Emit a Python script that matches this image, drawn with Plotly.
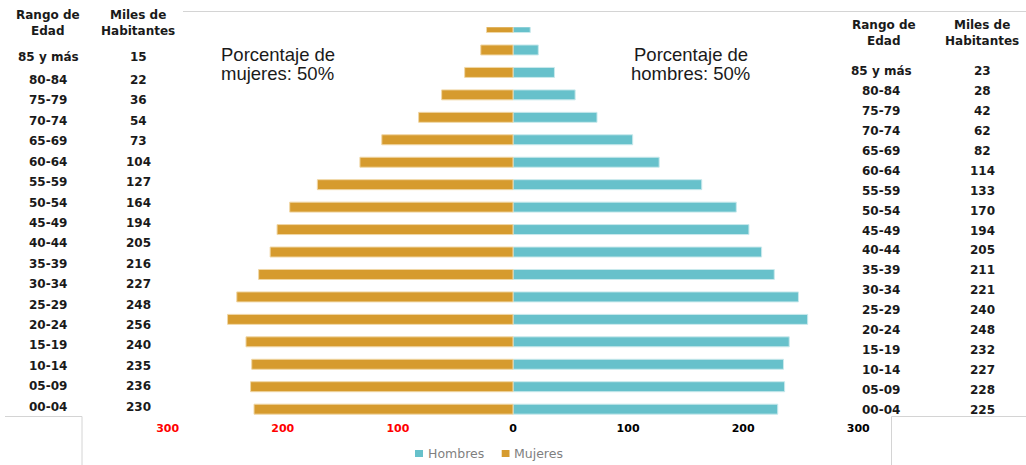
import plotly.graph_objects as go

# Age groups, listed from the oldest (top) to the youngest (bottom)
edades = ["85 y más", "80-84", "75-79", "70-74", "65-69", "60-64", "55-59",
          "50-54", "45-49", "40-44", "35-39", "30-34", "25-29", "20-24",
          "15-19", "10-14", "05-09", "00-04"]

# Thousands of inhabitants per age group
hombres_miles = [15, 22, 36, 54, 73, 104, 127, 164, 194, 205, 216, 227,
                 248, 256, 240, 235, 236, 230]
mujeres_miles = [23, 28, 42, 62, 82, 114, 133, 170, 194, 205, 211, 221,
                 240, 248, 232, 227, 228, 225]

# Axis ticks
tick_valores = [-300, -200, -100, 0, 100, 200, 300]
tick_textos = ["300", "200", "100", "0", "100", "200", "300"]

pct_mujeres = ["Porcentaje de", "mujeres: 50%"]
pct_hombres = ["Porcentaje de", "hombres: 50%"]

C_HOMBRES = "#67c1cb"
C_MUJERES = "#d69b2e"

W, H = 1026, 465


def px(x):
    return x / W


def py(y):
    return 1 - y / H


fig = go.Figure()
fig.add_trace(go.Bar(
    y=edades, x=hombres_miles, orientation="h", name="Hombres",
    marker=dict(color=C_HOMBRES, line=dict(color="#c9e9ec", width=1)),
    hovertemplate="%{y}: %{x}<extra>Hombres</extra>",
))
fig.add_trace(go.Bar(
    y=edades, x=[-v for v in mujeres_miles], orientation="h", name="Mujeres",
    customdata=mujeres_miles,
    marker=dict(color=C_MUJERES, line=dict(color="#f0d7a6", width=1)),
    hovertemplate="%{y}: %{customdata}<extra>Mujeres</extra>",
))

tick_labels = []
for v, t in zip(tick_valores, tick_textos):
    col = "#ff0000" if v < 0 else "#000000"
    tick_labels.append(f'<span style="color:{col}">{t}</span>')

fig.update_layout(
    width=W, height=H,
    margin=dict(l=0, r=0, t=0, b=0, pad=0, autoexpand=False),
    paper_bgcolor="white", plot_bgcolor="white",
    barmode="relative", bargap=0.555,
    showlegend=False,
    xaxis=dict(
        type="linear",
        domain=[px(167.7), px(858.3)], range=[-300, 300],
        tickvals=tick_valores, ticktext=tick_labels,
        tickfont=dict(family="DejaVu Sans", size=11, color="#000000", weight="bold"),
        showgrid=False, zeroline=False, showline=False, ticks="",
    ),
    yaxis=dict(
        type="category",
        domain=[py(420.4), py(27.3)], range=[-0.5, 17.01],
        categoryorder="array", categoryarray=list(reversed(edades)),
        showticklabels=False, showgrid=False, zeroline=False, showline=False,
        ticks="",
    ),
)

annotations = []
table_font = dict(family="DejaVu Sans", size=12, color="#1a1a1a", weight="bold")


def label(x, y, text, font, anchor="center"):
    annotations.append(dict(
        x=px(x), y=py(y), xref="paper", yref="paper", text=text,
        showarrow=False, xanchor=anchor, yanchor="middle", font=font,
    ))


# Left table
label(48, 23, "Rango de<br>Edad", table_font)
label(137.5, 23, "Miles de<br>Habitantes", table_font)
for i, (e, v) in enumerate(zip(edades, hombres_miles)):
    y = 56.7 if i == 0 else 80 + (i - 1) * 20.42
    label(48, y, e, table_font)
    label(138, y, str(v), table_font)

# Right table
label(883.5, 33, "Rango de<br>Edad", table_font)
label(982, 33, "Miles de<br>Habitantes", table_font)
for i, (e, v) in enumerate(zip(edades, mujeres_miles)):
    y = 71 + i * 19.94
    label(881, y, e, table_font)
    label(982, y, str(v), table_font)

# Percentage notes, one annotation per line for tight spacing
pct_font = dict(family="Liberation Sans", size=18.5, color="#1a1a1a")
for k, (tm, th) in enumerate(zip(pct_mujeres, pct_hombres)):
    y = 54.3 + k * 19
    label(218.5, y, tm, pct_font, anchor="left")
    label(690.5, y, th, pct_font)

# Legend
leg_font = dict(family="DejaVu Sans", size=12.5, color="#7f7f7f")
label(426, 453.5, "Hombres", leg_font, anchor="left")
label(512, 453.5, "Mujeres", leg_font, anchor="left")

shapes = [
    dict(type="rect", xref="paper", yref="paper",
         x0=px(415), x1=px(423), y0=py(457), y1=py(450),
         fillcolor=C_HOMBRES, line=dict(width=0)),
    dict(type="rect", xref="paper", yref="paper",
         x0=px(501.7), x1=px(509.5), y0=py(457), y1=py(450),
         fillcolor=C_MUJERES, line=dict(width=0)),
]

# Thin gray frame lines of the sheet
line_style = dict(color="#d4d4d4", width=1)
for x0, y0, x1, y1 in [(183, 11.5, 1026, 11.5),
                       (5, 416.5, 82, 416.5), (82, 416.5, 82, 465),
                       (891.5, 416.5, 1026, 416.5), (891.5, 416.5, 891.5, 465)]:
    shapes.append(dict(type="line", xref="paper", yref="paper",
                       x0=px(x0), y0=py(y0), x1=px(x1), y1=py(y1),
                       line=line_style, layer="below"))

fig.update_layout(annotations=annotations, shapes=shapes)

fig.write_html("out.html")
